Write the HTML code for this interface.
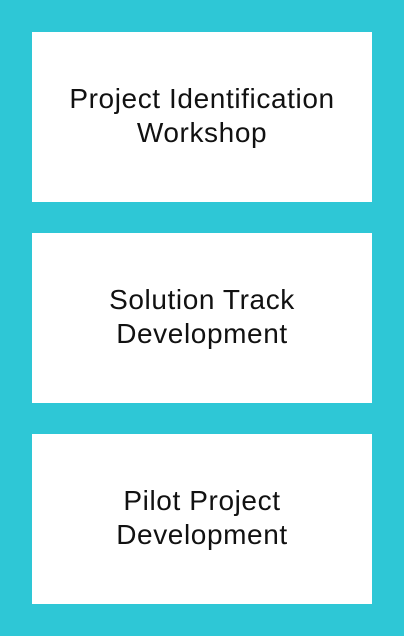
<!DOCTYPE html>
<html><head><style>
html,body{margin:0;padding:0;}
body{width:404px;height:636px;background:#2ec7d6;position:relative;overflow:hidden;font-family:"Liberation Sans",sans-serif;}
.b{position:absolute;left:32px;width:340px;height:170px;background:#fff;display:flex;align-items:center;justify-content:center;text-align:center;font-size:28px;letter-spacing:0.6px;line-height:34px;color:#111;padding-bottom:2px;box-sizing:border-box;}
</style></head><body>
<div class="b" style="top:32px">Project Identification<br>Workshop</div>
<div class="b" style="top:233px">Solution Track<br>Development</div>
<div class="b" style="top:434px">Pilot Project<br>Development</div>
</body></html>
